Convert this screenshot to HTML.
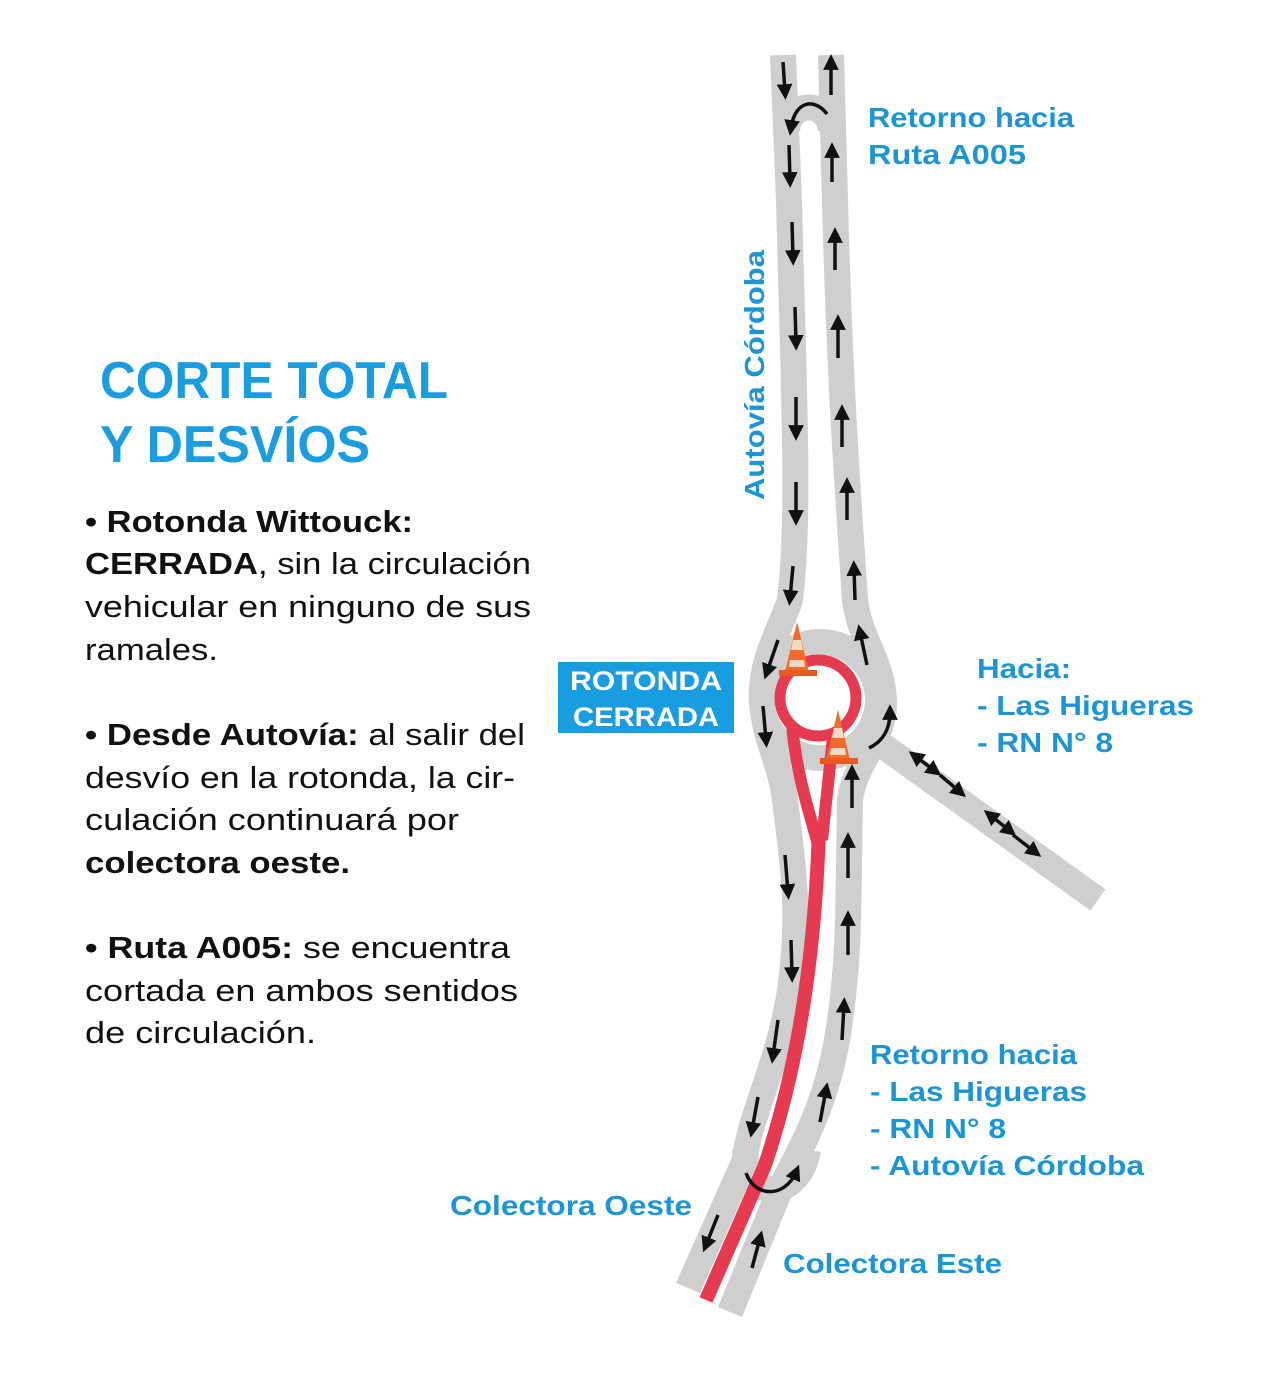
<!DOCTYPE html>
<html><head><meta charset="utf-8"><style>
html,body{margin:0;padding:0;background:#fff}
svg{display:block}
</style></head><body>
<svg width="1280" height="1376" viewBox="0 0 1280 1376" xmlns="http://www.w3.org/2000/svg" font-family="Liberation Sans, sans-serif">
<defs>
<marker id="ah" viewBox="0 0 10 10" refX="5" refY="5" markerWidth="4.5" markerHeight="4.5" orient="auto-start-reverse" markerUnits="strokeWidth">
<path d="M0,0 L10,5 L0,10 z" fill="#111"/></marker>
</defs>
<rect width="1280" height="1376" fill="#fff"/>
<g fill="none" stroke="#cfcfcf" stroke-width="26">
<path d="M783,55 L789,200 C794,400 800,520 790,600 C780,630 760,660 762,700 C764,740 780,760 785,800 C795,880 800,920 790,990 C780,1060 748,1120 745,1160 L688,1288"/>
<path d="M831,55 L835,200 C840,400 850,520 855,600 C860,640 882,660 884,700 C886,740 855,760 850,800 C848,900 850,950 840,1020 C830,1100 800,1150 782,1185 L730,1312"/>
<path d="M787,130 C790,100 828,100 831,130"/>
<path d="M745,1150 C745,1205 800,1200 808,1150"/>
<path d="M868,735 L1098,900"/>
<circle cx="820" cy="700" r="58"/>
</g>
<g fill="none" stroke="#e63a50" stroke-width="12" stroke-linecap="butt">
<circle cx="818" cy="698" r="38" stroke-width="11"/>
<path d="M792,725 C797,780 812,820 818,845"/>
<path d="M833,737 L822,840"/>
<path d="M819,830 C815,950 800,1060 765,1165 L706,1300" stroke-width="14"/>
</g>
<g>
<polygon points="797,622 785,672 809,672" fill="#f26b2a"/>
<polygon points="793,640 801,640 803,650 791,650" fill="#f7d9c4"/>
<polygon points="790,660 804,660 805,667 789,667" fill="#f7d9c4"/>
<rect x="779" y="670" width="38" height="6" fill="#e85a20"/>
<polygon points="838,710 826,760 850,760" fill="#f26b2a"/>
<polygon points="834,728 842,728 844,738 832,738" fill="#f7d9c4"/>
<polygon points="831,748 845,748 846,755 830,755" fill="#f7d9c4"/>
<rect x="820" y="758" width="38" height="6" fill="#e85a20"/>
</g>
<g stroke="#111" stroke-width="3.5" fill="none" marker-end="url(#ah)">
<line x1="783" y1="62" x2="785" y2="92"/>
<line x1="789" y1="145" x2="790" y2="180"/>
<line x1="792" y1="222" x2="793" y2="258"/>
<line x1="795" y1="307" x2="796" y2="343"/>
<line x1="796" y1="397" x2="796" y2="433"/>
<line x1="796" y1="482" x2="796" y2="518"/>
<line x1="793" y1="566" x2="790" y2="598"/>
<line x1="778" y1="640" x2="767" y2="672"/>
<line x1="763" y1="706" x2="766" y2="740"/>
<line x1="785" y1="855" x2="788" y2="892"/>
<line x1="791" y1="940" x2="792" y2="975"/>
<line x1="778" y1="1020" x2="773" y2="1056"/>
<line x1="758" y1="1097" x2="752" y2="1130"/>
<line x1="718" y1="1215" x2="706" y2="1245"/>
<line x1="831" y1="95" x2="831" y2="62"/>
<line x1="832" y1="182" x2="832" y2="150"/>
<line x1="835" y1="270" x2="835" y2="235"/>
<line x1="838" y1="358" x2="838" y2="322"/>
<line x1="842" y1="447" x2="842" y2="412"/>
<line x1="847" y1="520" x2="847" y2="485"/>
<line x1="855" y1="600" x2="854" y2="568"/>
<line x1="867" y1="665" x2="860" y2="632"/>
<line x1="852" y1="808" x2="852" y2="772"/>
<line x1="848" y1="878" x2="848" y2="840"/>
<line x1="848" y1="955" x2="848" y2="918"/>
<line x1="842" y1="1040" x2="844" y2="1005"/>
<line x1="820" y1="1122" x2="826" y2="1090"/>
<line x1="752" y1="1268" x2="760" y2="1238"/>
<path d="M827,114 C815,98 795,100 791,128"/>
<path d="M869,748 C882,742 890,730 890,712"/>
<path d="M746,1173 C755,1198 785,1198 796,1172"/>
<line x1="935" y1="771" x2="915" y2="756" marker-start="url(#ah)"/>
<line x1="940" y1="775" x2="960" y2="792"/>
<line x1="1010" y1="831" x2="990" y2="815" marker-start="url(#ah)"/>
<line x1="1013" y1="835" x2="1035" y2="852"/>
</g>
<g fill="#1a9de0" font-weight="bold" font-size="52">
<text x="100" y="398" textLength="348" lengthAdjust="spacingAndGlyphs">CORTE TOTAL</text>
<text x="100" y="462" textLength="270" lengthAdjust="spacingAndGlyphs">Y DESVÍOS</text>
</g>
<g fill="#111" font-size="31">
<text x="85" y="532" font-weight="bold" textLength="328" lengthAdjust="spacingAndGlyphs">• Rotonda Wittouck:</text>
<text x="85" y="574" textLength="446" lengthAdjust="spacingAndGlyphs"><tspan font-weight="bold">CERRADA</tspan>, sin la circulación</text>
<text x="85" y="617" textLength="446" lengthAdjust="spacingAndGlyphs">vehicular en ninguno de sus</text>
<text x="85" y="660" textLength="133" lengthAdjust="spacingAndGlyphs">ramales.</text>
<text x="85" y="745" textLength="440" lengthAdjust="spacingAndGlyphs"><tspan font-weight="bold">• Desde Autovía:</tspan> al salir del</text>
<text x="85" y="788" textLength="430" lengthAdjust="spacingAndGlyphs">desvío en la rotonda, la cir-</text>
<text x="85" y="830" textLength="374" lengthAdjust="spacingAndGlyphs">culación continuará por</text>
<text x="85" y="873" font-weight="bold" textLength="265" lengthAdjust="spacingAndGlyphs">colectora oeste.</text>
<text x="85" y="958" textLength="425" lengthAdjust="spacingAndGlyphs"><tspan font-weight="bold">• Ruta A005:</tspan> se encuentra</text>
<text x="85" y="1001" textLength="433" lengthAdjust="spacingAndGlyphs">cortada en ambos sentidos</text>
<text x="85" y="1043" textLength="231" lengthAdjust="spacingAndGlyphs">de circulación.</text>
</g>
<rect x="558" y="662" width="176" height="71" fill="#1a9de0"/>
<g fill="#fff" font-weight="bold" font-size="27">
<text x="646" y="690" text-anchor="middle" textLength="152" lengthAdjust="spacingAndGlyphs">ROTONDA</text>
<text x="646" y="726" text-anchor="middle" textLength="146" lengthAdjust="spacingAndGlyphs">CERRADA</text>
</g>
<g fill="#1c95d8" font-weight="bold" font-size="28">
<text x="868" y="127" textLength="206" lengthAdjust="spacingAndGlyphs">Retorno hacia</text>
<text x="868" y="164" textLength="158" lengthAdjust="spacingAndGlyphs">Ruta A005</text>
<text x="764" y="500" transform="rotate(-90 764 500)" textLength="250" lengthAdjust="spacingAndGlyphs">Autovía Córdoba</text>
<text x="977" y="678" textLength="94" lengthAdjust="spacingAndGlyphs">Hacia:</text>
<text x="977" y="715" textLength="217" lengthAdjust="spacingAndGlyphs">- Las Higueras</text>
<text x="977" y="752" textLength="136" lengthAdjust="spacingAndGlyphs">- RN N° 8</text>
<text x="870" y="1064" textLength="207" lengthAdjust="spacingAndGlyphs">Retorno hacia</text>
<text x="870" y="1101" textLength="217" lengthAdjust="spacingAndGlyphs">- Las Higueras</text>
<text x="870" y="1138" textLength="136" lengthAdjust="spacingAndGlyphs">- RN N° 8</text>
<text x="870" y="1175" textLength="274" lengthAdjust="spacingAndGlyphs">- Autovía Córdoba</text>
<text x="450" y="1215" textLength="242" lengthAdjust="spacingAndGlyphs">Colectora Oeste</text>
<text x="783" y="1273" textLength="219" lengthAdjust="spacingAndGlyphs">Colectora Este</text>
</g>
</svg>
</body></html>
